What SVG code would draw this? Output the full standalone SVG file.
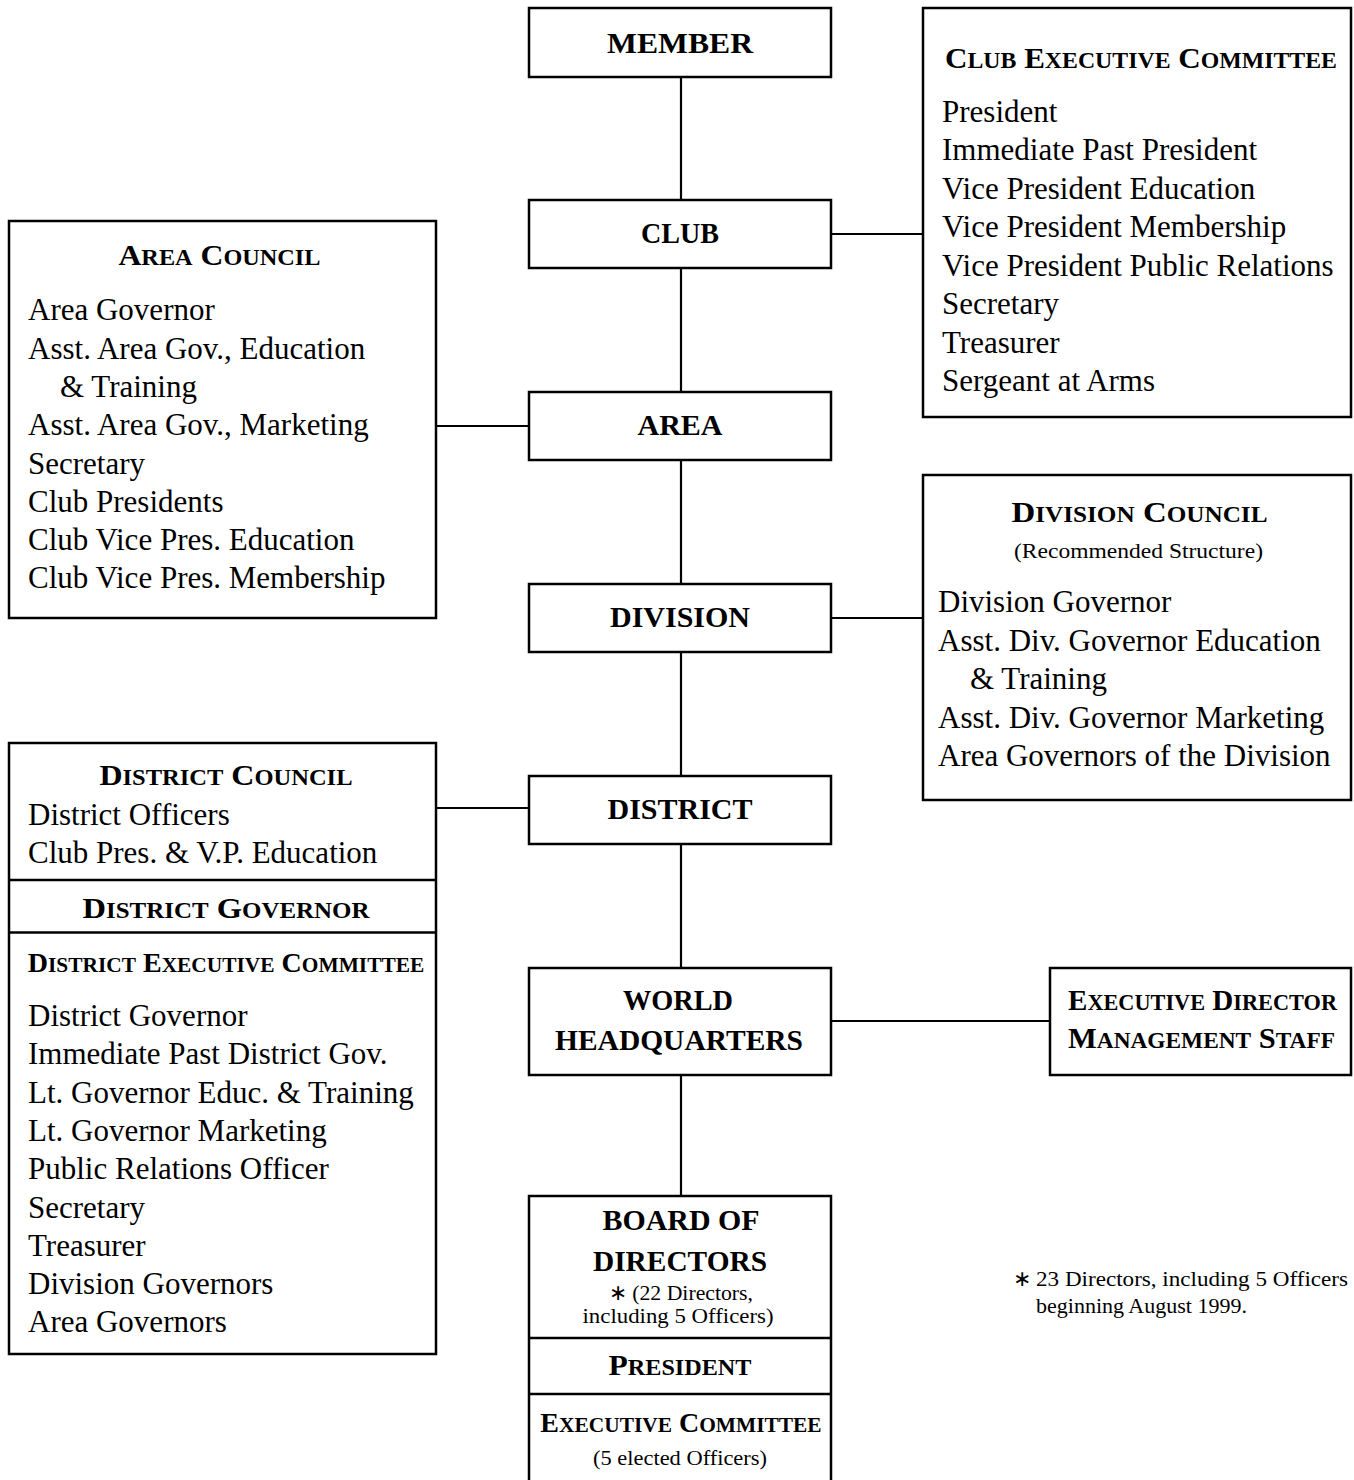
<svg xmlns="http://www.w3.org/2000/svg" width="1354" height="1480" viewBox="0 0 1354 1480">
<style>
text{font-family:"Liberation Serif","Times New Roman",serif;fill:#000}
.box{fill:#fff;stroke:#000;stroke-width:2.5}
.div{stroke:#000;stroke-width:2.5}
.con{stroke:#000;stroke-width:2.2;fill:none}
.lab{font-size:30px;font-weight:bold;text-anchor:middle}
.hd{font-weight:bold;font-size:30px}
.hd tspan.s{font-size:23px}
.hdc{font-weight:bold;font-size:28px}
.hdc tspan.s{font-size:21.4px}
.mid{text-anchor:middle}
.body{font-size:31px}
.sm{font-size:22px}
</style>
<rect width="1354" height="1480" fill="#fff"/>
<g id="connectors">
<line class="con" x1="681" y1="77" x2="681" y2="1196"/>
<line class="con" x1="831" y1="234" x2="923" y2="234"/>
<line class="con" x1="436" y1="426" x2="529" y2="426"/>
<line class="con" x1="831" y1="618" x2="923" y2="618"/>
<line class="con" x1="436" y1="808" x2="529" y2="808"/>
<line class="con" x1="831" y1="1021" x2="1050" y2="1021"/>
</g>
<g id="member">
<rect class="box" x="529" y="8" width="302" height="69"/>
<text class="lab" x="680" y="53" textLength="146" lengthAdjust="spacingAndGlyphs">MEMBER</text>
</g>
<g id="club">
<rect class="box" x="529" y="200" width="302" height="68"/>
<text class="lab" x="680" y="243" textLength="78" lengthAdjust="spacingAndGlyphs">CLUB</text>
</g>
<g id="area">
<rect class="box" x="529" y="392" width="302" height="68"/>
<text class="lab" x="680" y="435">AREA</text>
</g>
<g id="division">
<rect class="box" x="529" y="584" width="302" height="68"/>
<text class="lab" x="680" y="627">DIVISION</text>
</g>
<g id="district">
<rect class="box" x="529" y="776" width="302" height="68"/>
<text class="lab" x="680" y="819">DISTRICT</text>
</g>
<g id="world-headquarters">
<rect class="box" x="529" y="968" width="302" height="107"/>
<text class="lab" x="678" y="1010" textLength="110" lengthAdjust="spacingAndGlyphs">WORLD</text>
<text class="lab" x="679" y="1050" textLength="248" lengthAdjust="spacingAndGlyphs">HEADQUARTERS</text>
</g>
<g id="board-of-directors">
<rect class="box" x="529" y="1196" width="302" height="300"/>
<line class="div" x1="529" y1="1338" x2="831" y2="1338"/>
<line class="div" x1="529" y1="1394" x2="831" y2="1394"/>
<text class="lab" x="681" y="1230" textLength="157" lengthAdjust="spacingAndGlyphs">BOARD OF</text>
<text class="lab" x="680" y="1271" textLength="174" lengthAdjust="spacingAndGlyphs">DIRECTORS</text>
<text class="sm mid" x="681" y="1300" textLength="144" lengthAdjust="spacingAndGlyphs">∗ (22 Directors,</text>
<text class="sm mid" x="678" y="1323" textLength="191" lengthAdjust="spacingAndGlyphs">including 5 Officers)</text>
<text class="hd mid" x="680" y="1375" textLength="143" lengthAdjust="spacingAndGlyphs">P<tspan class="s">RESIDENT</tspan></text>
<text class="hdc mid" x="681" y="1432">E<tspan class="s">XECUTIVE</tspan> C<tspan class="s">OMMITTEE</tspan></text>
<text class="sm mid" x="680" y="1465" textLength="174" lengthAdjust="spacingAndGlyphs">(5 elected Officers)</text>
</g>
<g id="club-executive-committee">
<rect class="box" x="923" y="8" width="428" height="409"/>
<text class="hd mid" x="1141" y="68" textLength="392" lengthAdjust="spacingAndGlyphs">C<tspan class="s">LUB</tspan> E<tspan class="s">XECUTIVE</tspan> C<tspan class="s">OMMITTEE</tspan></text>
<text class="body" x="942" y="122">President</text>
<text class="body" x="942" y="160">Immediate Past President</text>
<text class="body" x="942" y="198.5">Vice President Education</text>
<text class="body" x="942" y="237">Vice President Membership</text>
<text class="body" x="942" y="275.5">Vice President Public Relations</text>
<text class="body" x="942" y="314">Secretary</text>
<text class="body" x="942" y="352.5">Treasurer</text>
<text class="body" x="942" y="391">Sergeant at Arms</text>
</g>
<g id="area-council">
<rect class="box" x="9" y="221" width="427" height="397"/>
<text class="hd mid" x="219.5" y="265" textLength="202" lengthAdjust="spacingAndGlyphs">A<tspan class="s">REA</tspan> C<tspan class="s">OUNCIL</tspan></text>
<text class="body" x="28" y="320">Area Governor</text>
<text class="body" x="28" y="358.5">Asst. Area Gov., Education</text>
<text class="body" x="60" y="397">&amp; Training</text>
<text class="body" x="28" y="435">Asst. Area Gov., Marketing</text>
<text class="body" x="28" y="473.5">Secretary</text>
<text class="body" x="28" y="511.5">Club Presidents</text>
<text class="body" x="28" y="550">Club Vice Pres. Education</text>
<text class="body" x="28" y="588">Club Vice Pres. Membership</text>
</g>
<g id="division-council">
<rect class="box" x="923" y="475" width="428" height="325"/>
<text class="hd mid" x="1139.5" y="521.5" textLength="256" lengthAdjust="spacingAndGlyphs">D<tspan class="s">IVISION</tspan> C<tspan class="s">OUNCIL</tspan></text>
<text class="sm mid" x="1138.5" y="558" textLength="249" lengthAdjust="spacingAndGlyphs">(Recommended Structure)</text>
<text class="body" x="938" y="612">Division Governor</text>
<text class="body" x="938" y="650.5">Asst. Div. Governor Education</text>
<text class="body" x="970" y="689">&amp; Training</text>
<text class="body" x="938" y="727.5">Asst. Div. Governor Marketing</text>
<text class="body" x="938" y="766">Area Governors of the Division</text>
</g>
<g id="district-council">
<rect class="box" x="9" y="743" width="427" height="611"/>
<line class="div" x1="9" y1="880" x2="436" y2="880"/>
<line class="div" x1="9" y1="932.5" x2="436" y2="932.5"/>
<text class="hd mid" x="226" y="785" textLength="253" lengthAdjust="spacingAndGlyphs">D<tspan class="s">ISTRICT</tspan> C<tspan class="s">OUNCIL</tspan></text>
<text class="body" x="28" y="825">District Officers</text>
<text class="body" x="28" y="863">Club Pres. &amp; V.P. Education</text>
<text class="hd mid" x="226" y="918" textLength="287" lengthAdjust="spacingAndGlyphs">D<tspan class="s">ISTRICT</tspan> G<tspan class="s">OVERNOR</tspan></text>
<text class="hdc mid" x="226" y="971.5">D<tspan class="s">ISTRICT</tspan> E<tspan class="s">XECUTIVE</tspan> C<tspan class="s">OMMITTEE</tspan></text>
<text class="body" x="28" y="1026">District Governor</text>
<text class="body" x="28" y="1064.3">Immediate Past District Gov.</text>
<text class="body" x="28" y="1102.6">Lt. Governor Educ. &amp; Training</text>
<text class="body" x="28" y="1140.9">Lt. Governor Marketing</text>
<text class="body" x="28" y="1179.2">Public Relations Officer</text>
<text class="body" x="28" y="1217.5">Secretary</text>
<text class="body" x="28" y="1255.8">Treasurer</text>
<text class="body" x="28" y="1294.1">Division Governors</text>
<text class="body" x="28" y="1332.4">Area Governors</text>
</g>
<g id="executive-director">
<rect class="box" x="1050" y="968" width="301" height="107"/>
<text class="hd" x="1068" y="1010" textLength="269" lengthAdjust="spacingAndGlyphs">E<tspan class="s">XECUTIVE</tspan> D<tspan class="s">IRECTOR</tspan></text>
<text class="hd" x="1068" y="1048" textLength="267" lengthAdjust="spacingAndGlyphs">M<tspan class="s">ANAGEMENT</tspan> S<tspan class="s">TAFF</tspan></text>
</g>
<g id="footnote">
<text class="sm" x="1013" y="1286">∗</text>
<text class="sm" x="1036" y="1286" textLength="312" lengthAdjust="spacingAndGlyphs">23 Directors, including 5 Officers</text>
<text class="sm" x="1036" y="1313" textLength="211" lengthAdjust="spacingAndGlyphs">beginning August 1999.</text>
</g>
</svg>
